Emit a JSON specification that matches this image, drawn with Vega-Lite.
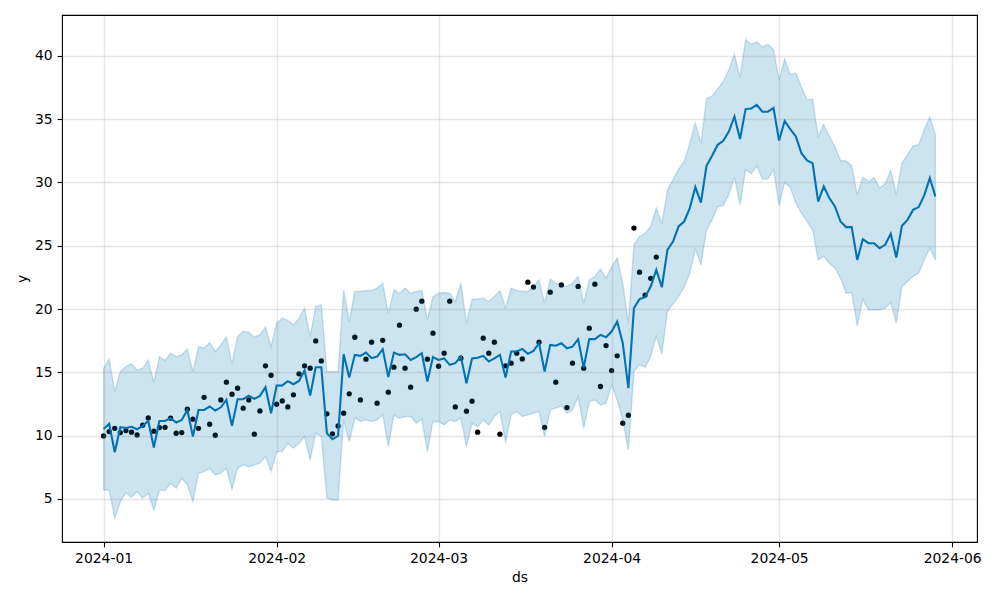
{
  "$schema": "https://vega.github.io/schema/vega-lite/v6.json",
  "width": 915,
  "height": 527,
  "autosize": {"type": "none"},
  "padding": {"left": 62, "top": 15, "right": 23, "bottom": 58},
  "background": "white",
  "datasets": {
    "fc": [
      {"ds":"2024-01-01","yhat":10.53,"lo":5.71,"hi":15.33},
      {"ds":"2024-01-02","yhat":10.93,"lo":5.71,"hi":16.04},
      {"ds":"2024-01-03","yhat":8.69,"lo":3.47,"hi":13.48},
      {"ds":"2024-01-04","yhat":10.66,"lo":4.79,"hi":15.06},
      {"ds":"2024-01-05","yhat":10.6,"lo":5.5,"hi":15.46},
      {"ds":"2024-01-06","yhat":10.7,"lo":5.13,"hi":15.67},
      {"ds":"2024-01-07","yhat":10.5,"lo":5.58,"hi":15.19},
      {"ds":"2024-01-08","yhat":10.77,"lo":5.06,"hi":15.33},
      {"ds":"2024-01-09","yhat":11.16,"lo":5.45,"hi":15.98},
      {"ds":"2024-01-10","yhat":9.06,"lo":4.13,"hi":14.19},
      {"ds":"2024-01-11","yhat":11.16,"lo":5.71,"hi":16.24},
      {"ds":"2024-01-12","yhat":11.16,"lo":5.66,"hi":15.93},
      {"ds":"2024-01-13","yhat":11.38,"lo":6.24,"hi":16.51},
      {"ds":"2024-01-14","yhat":11.03,"lo":5.85,"hi":16.24},
      {"ds":"2024-01-15","yhat":11.24,"lo":6.64,"hi":16.38},
      {"ds":"2024-01-16","yhat":12.03,"lo":6.11,"hi":16.83},
      {"ds":"2024-01-17","yhat":9.92,"lo":4.79,"hi":15.06},
      {"ds":"2024-01-18","yhat":12.03,"lo":7.03,"hi":17.03},
      {"ds":"2024-01-19","yhat":12.03,"lo":7.16,"hi":16.9},
      {"ds":"2024-01-20","yhat":12.3,"lo":7.43,"hi":17.35},
      {"ds":"2024-01-21","yhat":11.98,"lo":6.9,"hi":16.64},
      {"ds":"2024-01-22","yhat":12.24,"lo":7.03,"hi":17.17},
      {"ds":"2024-01-23","yhat":12.82,"lo":7.43,"hi":17.77},
      {"ds":"2024-01-24","yhat":10.77,"lo":5.77,"hi":15.67},
      {"ds":"2024-01-25","yhat":12.88,"lo":7.43,"hi":17.82},
      {"ds":"2024-01-26","yhat":12.88,"lo":7.69,"hi":18.22},
      {"ds":"2024-01-27","yhat":13.16,"lo":7.55,"hi":18.17},
      {"ds":"2024-01-28","yhat":12.9,"lo":7.69,"hi":17.77},
      {"ds":"2024-01-29","yhat":13.14,"lo":7.82,"hi":17.96},
      {"ds":"2024-01-30","yhat":13.82,"lo":8.34,"hi":18.57},
      {"ds":"2024-01-31","yhat":11.77,"lo":7.16,"hi":17.03},
      {"ds":"2024-02-01","yhat":13.95,"lo":8.74,"hi":18.88},
      {"ds":"2024-02-02","yhat":13.97,"lo":8.74,"hi":19.28},
      {"ds":"2024-02-03","yhat":14.3,"lo":9.4,"hi":19.1},
      {"ds":"2024-02-04","yhat":14.06,"lo":9.01,"hi":18.75},
      {"ds":"2024-02-05","yhat":14.32,"lo":9.4,"hi":19.28},
      {"ds":"2024-02-06","yhat":15.14,"lo":9.92,"hi":20.07},
      {"ds":"2024-02-07","yhat":13.16,"lo":8.08,"hi":17.82},
      {"ds":"2024-02-08","yhat":15.4,"lo":10.19,"hi":20.2},
      {"ds":"2024-02-09","yhat":15.4,"lo":9.92,"hi":20.33},
      {"ds":"2024-02-10","yhat":10.19,"lo":5.06,"hi":15.06},
      {"ds":"2024-02-11","yhat":9.72,"lo":4.92,"hi":15.06},
      {"ds":"2024-02-12","yhat":9.98,"lo":4.92,"hi":15.06},
      {"ds":"2024-02-13","yhat":16.43,"lo":11.24,"hi":21.51},
      {"ds":"2024-02-14","yhat":14.59,"lo":9.53,"hi":19.01},
      {"ds":"2024-02-15","yhat":16.38,"lo":11.38,"hi":21.38},
      {"ds":"2024-02-16","yhat":16.3,"lo":11.11,"hi":21.38},
      {"ds":"2024-02-17","yhat":16.56,"lo":11.24,"hi":21.46},
      {"ds":"2024-02-18","yhat":16.12,"lo":11.11,"hi":21.46},
      {"ds":"2024-02-19","yhat":16.24,"lo":11.24,"hi":21.65},
      {"ds":"2024-02-20","yhat":16.83,"lo":11.64,"hi":22.04},
      {"ds":"2024-02-21","yhat":14.62,"lo":9.14,"hi":19.67},
      {"ds":"2024-02-22","yhat":16.56,"lo":11.64,"hi":21.51},
      {"ds":"2024-02-23","yhat":16.38,"lo":11.38,"hi":21.25},
      {"ds":"2024-02-24","yhat":16.43,"lo":11.51,"hi":21.65},
      {"ds":"2024-02-25","yhat":15.98,"lo":11.51,"hi":21.25},
      {"ds":"2024-02-26","yhat":16.2,"lo":10.98,"hi":21.38},
      {"ds":"2024-02-27","yhat":16.51,"lo":11.3,"hi":21.46},
      {"ds":"2024-02-28","yhat":14.27,"lo":8.74,"hi":19.14},
      {"ds":"2024-02-29","yhat":16.2,"lo":11.11,"hi":20.98},
      {"ds":"2024-03-01","yhat":15.98,"lo":11.1,"hi":21.25},
      {"ds":"2024-03-02","yhat":16.1,"lo":10.85,"hi":21.3},
      {"ds":"2024-03-03","yhat":15.59,"lo":11.24,"hi":21.25},
      {"ds":"2024-03-04","yhat":15.72,"lo":11.11,"hi":20.59},
      {"ds":"2024-03-05","yhat":16.24,"lo":11.38,"hi":22.04},
      {"ds":"2024-03-06","yhat":14.14,"lo":9.14,"hi":18.88},
      {"ds":"2024-03-07","yhat":16.1,"lo":10.98,"hi":20.78},
      {"ds":"2024-03-08","yhat":16.15,"lo":10.7,"hi":20.8},
      {"ds":"2024-03-09","yhat":16.3,"lo":11.24,"hi":20.86},
      {"ds":"2024-03-10","yhat":15.85,"lo":10.85,"hi":20.59},
      {"ds":"2024-03-11","yhat":16.1,"lo":11.51,"hi":20.98},
      {"ds":"2024-03-12","yhat":16.38,"lo":11.9,"hi":21.46},
      {"ds":"2024-03-13","yhat":14.59,"lo":9.45,"hi":20.07},
      {"ds":"2024-03-14","yhat":16.64,"lo":11.64,"hi":21.65},
      {"ds":"2024-03-15","yhat":16.64,"lo":11.9,"hi":21.46},
      {"ds":"2024-03-16","yhat":16.85,"lo":11.51,"hi":21.38},
      {"ds":"2024-03-17","yhat":16.46,"lo":11.64,"hi":21.38},
      {"ds":"2024-03-18","yhat":16.69,"lo":11.77,"hi":21.78},
      {"ds":"2024-03-19","yhat":17.3,"lo":11.9,"hi":22.3},
      {"ds":"2024-03-20","yhat":15.06,"lo":9.92,"hi":20.46},
      {"ds":"2024-03-21","yhat":17.17,"lo":12.03,"hi":22.36},
      {"ds":"2024-03-22","yhat":17.1,"lo":12.17,"hi":22.04},
      {"ds":"2024-03-23","yhat":17.3,"lo":12.35,"hi":21.9},
      {"ds":"2024-03-24","yhat":16.9,"lo":11.77,"hi":21.78},
      {"ds":"2024-03-25","yhat":17.03,"lo":12.03,"hi":22.04},
      {"ds":"2024-03-26","yhat":17.62,"lo":13.08,"hi":22.57},
      {"ds":"2024-03-27","yhat":15.38,"lo":10.59,"hi":20.46},
      {"ds":"2024-03-28","yhat":17.62,"lo":12.69,"hi":22.3},
      {"ds":"2024-03-29","yhat":17.62,"lo":12.82,"hi":22.57},
      {"ds":"2024-03-30","yhat":17.96,"lo":12.43,"hi":23.15},
      {"ds":"2024-03-31","yhat":17.77,"lo":12.56,"hi":22.44},
      {"ds":"2024-04-01","yhat":18.22,"lo":14.01,"hi":23.31},
      {"ds":"2024-04-02","yhat":19.01,"lo":12.82,"hi":24.02},
      {"ds":"2024-04-03","yhat":17.3,"lo":11.24,"hi":22.04},
      {"ds":"2024-04-04","yhat":13.75,"lo":8.87,"hi":18.88},
      {"ds":"2024-04-05","yhat":20.07,"lo":15.06,"hi":25.07},
      {"ds":"2024-04-06","yhat":20.78,"lo":15.59,"hi":25.73},
      {"ds":"2024-04-07","yhat":20.94,"lo":15.4,"hi":25.96},
      {"ds":"2024-04-08","yhat":21.78,"lo":16.24,"hi":26.52},
      {"ds":"2024-04-09","yhat":23.09,"lo":17.82,"hi":27.97},
      {"ds":"2024-04-10","yhat":21.72,"lo":16.46,"hi":26.73},
      {"ds":"2024-04-11","yhat":24.67,"lo":19.8,"hi":29.42},
      {"ds":"2024-04-12","yhat":25.33,"lo":20.41,"hi":30.2},
      {"ds":"2024-04-13","yhat":26.52,"lo":20.98,"hi":31.05},
      {"ds":"2024-04-14","yhat":26.91,"lo":21.72,"hi":31.65},
      {"ds":"2024-04-15","yhat":27.97,"lo":22.83,"hi":33.1},
      {"ds":"2024-04-16","yhat":29.63,"lo":24.73,"hi":34.68},
      {"ds":"2024-04-17","yhat":28.41,"lo":23.49,"hi":33.1},
      {"ds":"2024-04-18","yhat":31.31,"lo":26.25,"hi":36.58},
      {"ds":"2024-04-19","yhat":32.1,"lo":27.04,"hi":36.84},
      {"ds":"2024-04-20","yhat":32.97,"lo":28.05,"hi":37.37},
      {"ds":"2024-04-21","yhat":33.29,"lo":28.2,"hi":37.97},
      {"ds":"2024-04-22","yhat":34.02,"lo":29.02,"hi":38.9},
      {"ds":"2024-04-23","yhat":35.21,"lo":30.42,"hi":40.1},
      {"ds":"2024-04-24","yhat":33.42,"lo":28.23,"hi":38.3},
      {"ds":"2024-04-25","yhat":35.79,"lo":31.0,"hi":41.3},
      {"ds":"2024-04-26","yhat":35.84,"lo":30.68,"hi":40.9},
      {"ds":"2024-04-27","yhat":36.13,"lo":31.31,"hi":41.1},
      {"ds":"2024-04-28","yhat":35.58,"lo":30.26,"hi":40.7},
      {"ds":"2024-04-29","yhat":35.58,"lo":30.26,"hi":40.9},
      {"ds":"2024-04-30","yhat":35.87,"lo":31.0,"hi":40.5},
      {"ds":"2024-05-01","yhat":33.31,"lo":28.15,"hi":38.1},
      {"ds":"2024-05-02","yhat":34.85,"lo":30.0,"hi":39.74},
      {"ds":"2024-05-03","yhat":34.2,"lo":29.6,"hi":38.5},
      {"ds":"2024-05-04","yhat":33.63,"lo":28.36,"hi":38.63},
      {"ds":"2024-05-05","yhat":32.31,"lo":27.57,"hi":37.53},
      {"ds":"2024-05-06","yhat":31.73,"lo":26.91,"hi":36.52},
      {"ds":"2024-05-07","yhat":31.52,"lo":26.25,"hi":36.58},
      {"ds":"2024-05-08","yhat":28.49,"lo":23.88,"hi":33.63},
      {"ds":"2024-05-09","yhat":29.68,"lo":24.15,"hi":34.6},
      {"ds":"2024-05-10","yhat":28.76,"lo":23.62,"hi":33.63},
      {"ds":"2024-05-11","yhat":28.1,"lo":23.23,"hi":32.84},
      {"ds":"2024-05-12","yhat":26.91,"lo":22.44,"hi":31.73},
      {"ds":"2024-05-13","yhat":26.47,"lo":21.25,"hi":31.7},
      {"ds":"2024-05-14","yhat":26.47,"lo":21.3,"hi":31.31},
      {"ds":"2024-05-15","yhat":23.88,"lo":18.67,"hi":29.02},
      {"ds":"2024-05-16","yhat":25.52,"lo":20.78,"hi":30.42},
      {"ds":"2024-05-17","yhat":25.2,"lo":19.93,"hi":30.07},
      {"ds":"2024-05-18","yhat":25.2,"lo":19.93,"hi":30.39},
      {"ds":"2024-05-19","yhat":24.81,"lo":19.93,"hi":29.55},
      {"ds":"2024-05-20","yhat":25.07,"lo":20.07,"hi":29.89},
      {"ds":"2024-05-21","yhat":25.94,"lo":20.51,"hi":30.94},
      {"ds":"2024-05-22","yhat":24.07,"lo":18.88,"hi":29.02},
      {"ds":"2024-05-23","yhat":26.57,"lo":21.78,"hi":31.52},
      {"ds":"2024-05-24","yhat":27.04,"lo":22.17,"hi":32.18},
      {"ds":"2024-05-25","yhat":27.83,"lo":22.57,"hi":32.89},
      {"ds":"2024-05-26","yhat":28.05,"lo":22.83,"hi":32.97},
      {"ds":"2024-05-27","yhat":28.97,"lo":23.88,"hi":34.16},
      {"ds":"2024-05-28","yhat":30.34,"lo":24.81,"hi":35.16},
      {"ds":"2024-05-29","yhat":28.89,"lo":23.88,"hi":33.76}
    ],
    "hist": [
      {"ds":"2024-01-01","y":9.98},{"ds":"2024-01-02","y":10.32},{"ds":"2024-01-03","y":10.58},{"ds":"2024-01-04","y":10.24},
      {"ds":"2024-01-05","y":10.4},{"ds":"2024-01-06","y":10.27},{"ds":"2024-01-07","y":10.06},{"ds":"2024-01-08","y":10.82},
      {"ds":"2024-01-09","y":11.4},{"ds":"2024-01-10","y":10.35},{"ds":"2024-01-11","y":10.64},{"ds":"2024-01-12","y":10.66},
      {"ds":"2024-01-13","y":11.38},{"ds":"2024-01-14","y":10.19},{"ds":"2024-01-15","y":10.24},{"ds":"2024-01-16","y":12.09},
      {"ds":"2024-01-17","y":11.3},{"ds":"2024-01-18","y":10.58},{"ds":"2024-01-19","y":13.03},{"ds":"2024-01-20","y":10.9},
      {"ds":"2024-01-21","y":10.03},{"ds":"2024-01-22","y":12.82},{"ds":"2024-01-23","y":14.22},{"ds":"2024-01-24","y":13.27},
      {"ds":"2024-01-25","y":13.75},{"ds":"2024-01-26","y":12.17},{"ds":"2024-01-27","y":12.82},{"ds":"2024-01-28","y":10.11},
      {"ds":"2024-01-29","y":11.95},{"ds":"2024-01-30","y":15.51},{"ds":"2024-01-31","y":14.77},{"ds":"2024-02-01","y":12.48},
      {"ds":"2024-02-02","y":12.74},{"ds":"2024-02-03","y":12.27},{"ds":"2024-02-04","y":13.22},{"ds":"2024-02-05","y":14.88},
      {"ds":"2024-02-06","y":15.51},{"ds":"2024-02-07","y":15.33},{"ds":"2024-02-08","y":17.48},{"ds":"2024-02-09","y":15.9},
      {"ds":"2024-02-10","y":11.72},{"ds":"2024-02-11","y":10.14},{"ds":"2024-02-12","y":10.77},{"ds":"2024-02-13","y":11.77},
      {"ds":"2024-02-14","y":13.3},{"ds":"2024-02-15","y":17.77},{"ds":"2024-02-16","y":12.82},{"ds":"2024-02-17","y":16.04},
      {"ds":"2024-02-18","y":17.38},{"ds":"2024-02-19","y":12.56},{"ds":"2024-02-20","y":17.53},{"ds":"2024-02-21","y":13.43},
      {"ds":"2024-02-22","y":15.41},{"ds":"2024-02-23","y":18.72},{"ds":"2024-02-24","y":15.33},{"ds":"2024-02-25","y":13.83},
      {"ds":"2024-02-26","y":19.99},{"ds":"2024-02-27","y":20.62},{"ds":"2024-02-28","y":16.04},{"ds":"2024-02-29","y":18.09},
      {"ds":"2024-03-01","y":15.48},{"ds":"2024-03-02","y":16.51},{"ds":"2024-03-03","y":20.62},{"ds":"2024-03-04","y":12.27},
      {"ds":"2024-03-05","y":16.12},{"ds":"2024-03-06","y":11.93},{"ds":"2024-03-07","y":12.72},{"ds":"2024-03-08","y":10.27},
      {"ds":"2024-03-09","y":17.7},{"ds":"2024-03-10","y":16.51},{"ds":"2024-03-11","y":17.38},{"ds":"2024-03-12","y":10.11},
      {"ds":"2024-03-13","y":15.51},{"ds":"2024-03-14","y":15.72},{"ds":"2024-03-15","y":16.51},{"ds":"2024-03-16","y":16.06},
      {"ds":"2024-03-17","y":22.12},{"ds":"2024-03-18","y":21.73},{"ds":"2024-03-19","y":17.38},{"ds":"2024-03-20","y":10.66},
      {"ds":"2024-03-21","y":21.33},{"ds":"2024-03-22","y":14.22},{"ds":"2024-03-23","y":21.9},{"ds":"2024-03-24","y":12.22},
      {"ds":"2024-03-25","y":15.72},{"ds":"2024-03-26","y":21.78},{"ds":"2024-03-27","y":15.33},{"ds":"2024-03-28","y":18.49},
      {"ds":"2024-03-29","y":21.96},{"ds":"2024-03-30","y":13.88},{"ds":"2024-03-31","y":17.11},{"ds":"2024-04-01","y":15.14},
      {"ds":"2024-04-02","y":16.3},{"ds":"2024-04-03","y":10.98},{"ds":"2024-04-04","y":11.61},{"ds":"2024-04-05","y":26.39},
      {"ds":"2024-04-06","y":22.91},{"ds":"2024-04-07","y":21.1},{"ds":"2024-04-08","y":22.42},{"ds":"2024-04-09","y":24.1}
    ]
  },
  "layer": [
    {
      "data": {"name": "hist"},
      "mark": {"type": "circle", "color": "black", "opacity": 1, "size": 28},
      "encoding": {
        "x": {"field": "ds", "type": "temporal"},
        "y": {"field": "y", "type": "quantitative"}
      }
    },
    {
      "data": {"name": "fc"},
      "mark": {"type": "line", "color": "#0072B2", "strokeWidth": 2.08},
      "encoding": {
        "x": {"field": "ds", "type": "temporal"},
        "y": {"field": "yhat", "type": "quantitative"}
      }
    },
    {
      "data": {"name": "fc"},
      "mark": {"type": "area", "color": "#0072B2", "fillOpacity": 0.2, "stroke": "#0072B2", "strokeOpacity": 0.2, "strokeWidth": 1.39},
      "encoding": {
        "x": {"field": "ds", "type": "temporal"},
        "y": {"field": "lo", "type": "quantitative"},
        "y2": {"field": "hi"}
      }
    }
  ],
  "resolve": {"scale": {"x": "shared", "y": "shared"}},
  "encoding": {
    "x": {
      "field": "ds", "type": "temporal", "title": "ds",
      "scale": {"type": "utc", "domain": [1703423520000, 1717584480000], "nice": false},
      "axis": {"values": [1704067200000, 1706745600000, 1709251200000, 1711929600000, 1714521600000, 1717200000000], "labelExpr": "utcFormat(datum.value, '%Y-%m')", "zindex": 1, "labelFlush": false, "labelOverlap": false}
    },
    "y": {
      "type": "quantitative", "title": "y",
      "scale": {"domain": [1.6, 43.22], "nice": false, "zero": false},
      "axis": {"values": [5, 10, 15, 20, 25, 30, 35, 40], "zindex": 1}
    }
  },
  "config": {
    "view": {"stroke": "black", "strokeWidth": 1.1},
    "axis": {
      "domain": false,
      "grid": true,
      "gridColor": "#808080",
      "gridOpacity": 0.2,
      "gridWidth": 1.39,
      "ticks": true,
      "tickColor": "black",
      "tickSize": 4.9,
      "tickWidth": 1.1,
      "labelPadding": 4.9,
      "labelFont": "DejaVu Sans",
      "labelFontSize": 13.9,
      "labelColor": "black",
      "titleFont": "DejaVu Sans",
      "titleFontSize": 13.9,
      "titleFontWeight": "normal",
      "titleColor": "black",
      "titlePadding": 5
    }
  }
}
